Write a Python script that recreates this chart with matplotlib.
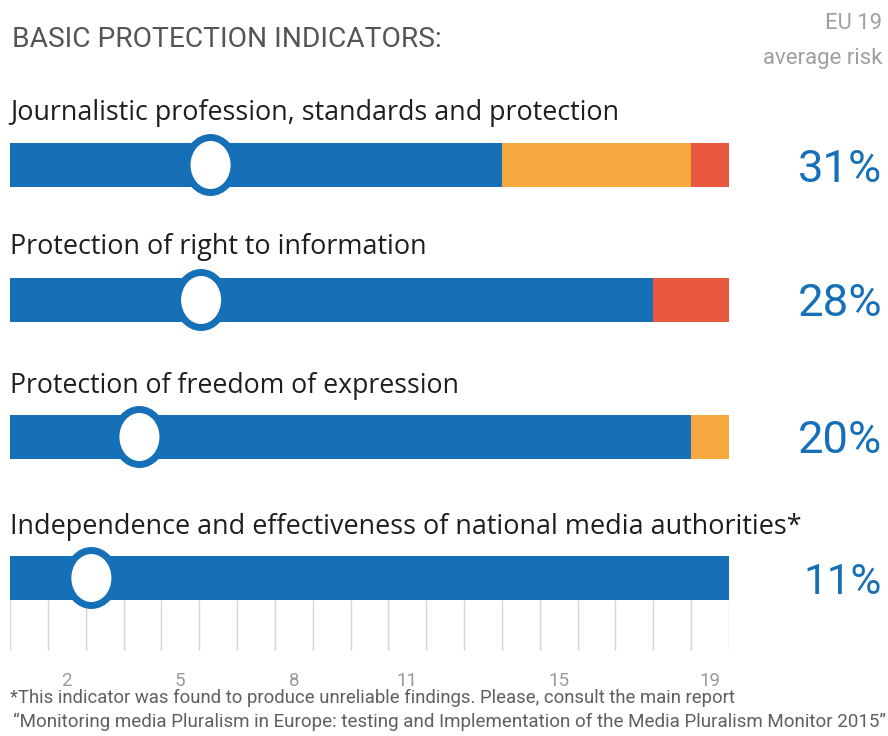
import matplotlib
matplotlib.use("Agg")
import matplotlib.pyplot as plt
from matplotlib.patches import Ellipse

# ---- data ----
categories = [
    "Journalistic profession, standards and protection",
    "Protection of right to information",
    "Protection of freedom of expression",
    "Independence and effectiveness of national media authorities*",
]
low_risk = [13, 17, 18, 19]      # number of countries (blue)
medium_risk = [5, 0, 1, 0]       # orange
high_risk = [1, 2, 0, 0]         # red
avg_marker = [5.3, 5.05, 3.42, 2.15]   # position of EU average marker (country units)
avg_risk = [31, 28, 20, 11]            # EU 19 average risk, %
tick_values = [2, 5, 8, 11, 15, 19]
n_countries = 19

title = "BASIC PROTECTION INDICATORS:"
footnote1 = "*This indicator was found to produce unreliable findings. Please, consult the main report"
footnote2 = "\u201cMonitoring media Pluralism in Europe: testing and Implementation of the Media Pluralism Monitor 2015\u201d"

# ---- style ----
BLUE = "#1670b8"
ORANGE = "#f6a93e"
RED = "#e9593f"
W, H = 888, 736
NARROW = ["Roboto", "DejaVu Sans"]
LABEL = ["Open Sans", "DejaVu Sans"]

fig = plt.figure(figsize=(W / 100, H / 100), dpi=100)
fig.patch.set_facecolor("white")
x0, x1 = 10, 729
ax = fig.add_axes([x0 / W, 0, (x1 - x0) / W, 1])
ax.set_xlim(0, n_countries)
ax.set_ylim(H, 0)
ax.axis("off")

bar_centers = [165, 300, 437, 578]
bar_h = 44
px_per_unit = (x1 - x0) / n_countries

# tick lines
ax.vlines(range(n_countries + 1), 600, 650, color="#d4d4d4", lw=1.0, zorder=0)
for v in tick_values:
    ax.text(v - 0.5, 686, str(v), ha="center", va="baseline", color="#9a9a9a",
            fontsize=13.5, family=NARROW)

for i, yc in enumerate(bar_centers):
    ax.barh(yc, low_risk[i], height=bar_h, color=BLUE, left=0, zorder=2)
    ax.barh(yc, medium_risk[i], height=bar_h, color=ORANGE, left=low_risk[i], zorder=2)
    ax.barh(yc, high_risk[i], height=bar_h, color=RED,
            left=low_risk[i] + medium_risk[i], zorder=2)
    e = Ellipse((avg_marker[i], yc), width=47 / px_per_unit, height=55,
                facecolor="white", edgecolor=BLUE, lw=5, zorder=3)
    ax.add_patch(e)

renderer = fig.canvas.get_renderer()


def ftext(x, y, s, target_w, ha="left", **kw):
    t = fig.text(x / W, 1 - y / H, s, ha=ha, va="baseline", **kw)
    bb = t.get_window_extent(renderer)
    t.set_fontsize(t.get_fontsize() * target_w / bb.width)
    return t


ftext(12, 47, title, 430, color="#555555", family=NARROW, fontsize=20)
ftext(882, 29, "EU 19", 57, ha="right", color="#9f9f9f", family=NARROW, fontsize=14)
ftext(882, 64, "average risk", 121, ha="right", color="#9f9f9f", family=NARROW, fontsize=14)

label_baselines = [120, 254, 393, 534]
label_widths = [610, 417, 448, 790]
for i, s in enumerate(categories):
    ftext(10, label_baselines[i], s, label_widths[i], color="#1e1e1e", family=LABEL, fontsize=18)

pct_baselines = [182, 316, 453, 594]
pct_widths = [84, 84, 84, 78]
for i, v in enumerate(avg_risk):
    ftext(882, pct_baselines[i], f"{v}%", pct_widths[i], ha="right", color=BLUE,
          family=NARROW, fontsize=30)

ftext(10, 703, footnote1, 723, color="#5f5f5f", family=NARROW, fontsize=12)
ftext(13, 727, footnote2, 869, color="#5f5f5f", family=NARROW, fontsize=12)

fig.savefig("out.png", dpi=100, facecolor="white")
